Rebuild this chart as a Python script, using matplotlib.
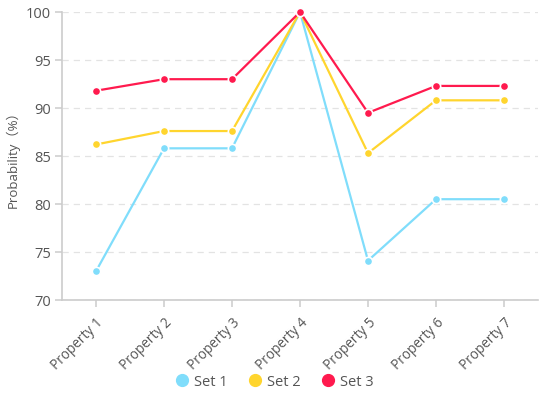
import matplotlib
matplotlib.use("Agg")
import matplotlib.pyplot as plt
from matplotlib.lines import Line2D

plt.rcParams['font.family'] = ['Open Sans', 'Noto Sans CJK SC', 'DejaVu Sans']

# data
properties = ["Property 1", "Property 2", "Property 3", "Property 4",
              "Property 5", "Property 6", "Property 7"]
set1 = [73.0, 85.8, 85.8, 100.0, 74.1, 80.5, 80.5]
set2 = [86.2, 87.6, 87.6, 100.0, 85.3, 90.8, 90.8]
set3 = [91.8, 93.0, 93.0, 100.0, 89.5, 92.3, 92.3]
series_names = ["Set 1", "Set 2", "Set 3"]
colors = ["#80DDFB", "#FFD52E", "#FF1A4E"]

fig = plt.figure(figsize=(5.5, 3.99), dpi=100)
ax = fig.add_axes([62 / 550, 1 - 300 / 399, (538 - 62) / 550, (300 - 12) / 399])

x = list(range(len(properties)))
for vals, c in zip([set1, set2, set3], colors):
    ax.plot(x, vals, color=c, lw=1.6, marker="o", ms=6,
            markerfacecolor=c, markeredgecolor="white", markeredgewidth=1.2,
            zorder=3, clip_on=False)

ax.set_xlim(-0.5, len(properties) - 0.5)
ax.set_ylim(70, 100)
ax.set_yticks([70, 75, 80, 85, 90, 95, 100])
ax.set_xticks(x)
ax.set_xticklabels(properties, rotation=45, ha="right", rotation_mode="anchor")

ax.grid(axis="y", color="#e3e3e3", linestyle=(0, (5, 4)), lw=0.9)
ax.set_axisbelow(True)
for s in ["top", "right"]:
    ax.spines[s].set_visible(False)
for s in ["left", "bottom"]:
    ax.spines[s].set_color("#cccccc")
    ax.spines[s].set_linewidth(1.2)
ax.tick_params(axis="both", colors="#cccccc", length=5, width=1.1,
               labelcolor="#555555")
ax.tick_params(axis="y", labelsize=10.5, pad=3)
ax.tick_params(axis="x", labelsize=9.8, pad=6)
ax.set_ylabel("Probability（%）", color="#555555", fontsize=9.5)
ax.yaxis.set_label_coords(-0.088, 0.5)

handles = [Line2D([], [], lw=0, marker="o", ms=8.5, color=c) for c in colors]
fig.legend(handles, series_names, loc="center", bbox_to_anchor=(0.499, 1 - 382 / 399),
           ncol=3, frameon=False, fontsize=10.5, handlelength=1.0,
           handletextpad=0.3, columnspacing=1.4, labelcolor="#555555")

fig.savefig("out.png", dpi=100)
